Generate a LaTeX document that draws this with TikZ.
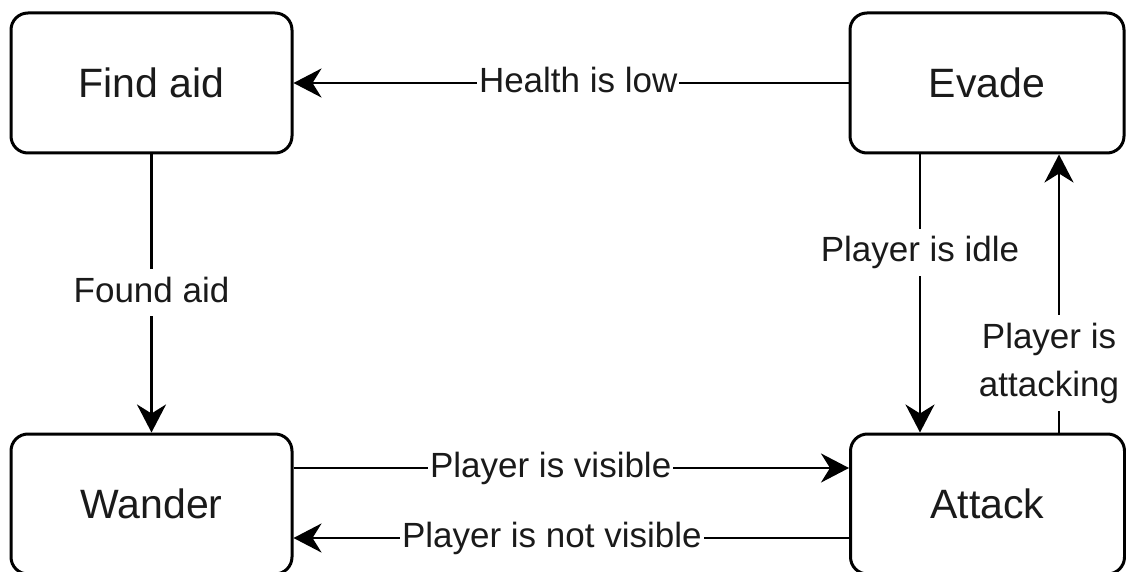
\documentclass[tikz,border=0pt]{standalone}
\usepackage{fontspec}
\setmainfont{Liberation Sans}
\usetikzlibrary{arrows.meta}
\definecolor{ink}{HTML}{1A1A1A}
\tikzset{
  state/.style={draw=black, line width=3pt, rounded corners=17pt, fill=white,
    minimum width=#1, minimum height=140pt, inner sep=0pt, text=ink,
    font=\fontsize{41}{48}\selectfont},
  state/.default=281pt,
  arr/.style={draw=black, line width=2.6pt,
    -{Stealth[length=28pt, width=29pt, inset=9pt]}},
  lab/.style={fill=white, text=ink, inner xsep=2pt, inner ysep=8pt,
    font=\fontsize{35}{48}\selectfont, text height=25pt, text depth=6pt}
}
\begin{document}
\begin{tikzpicture}[x=1pt, y=-1pt]
\useasboundingbox (0,0) rectangle (1126,572);
\clip (0,0) rectangle (1126,572);
\fill[white] (0,0) rectangle (1126,572);

\node[state] (fa) at (151.5,83) {Find aid};
\node[state=274pt] (ev) at (987,83) {Evade};
\node[state] (wa) at (151.5,504) {Wander};
\node[state=274pt] (at) at (987.5,504) {Attack};

\draw[arr] (ev.west) -- node[lab, pos=0.487] {Health is low} (fa.east);
\draw[arr] (fa.south) -- node[lab, pos=0.498] {Found aid} (wa.north);
\draw[arr] ([xshift=-67pt]ev.south) -- node[lab, pos=0.352] {Player is idle} ([xshift=-67.5pt]at.north);
\draw[arr] ([xshift=71.5pt]at.north) -- node[lab, pos=0.25, xshift=-10pt, align=center, text height=73pt, inner ysep=8.5pt] {Player is\\attacking} ([xshift=72pt]ev.south);
\draw[arr] ([yshift=36pt]wa.east) -- node[lab, pos=0.463] {Player is visible} ([yshift=36pt]at.west);
\draw[arr] ([yshift=-34pt]at.west) -- node[lab, pos=0.535] {Player is not visible} ([yshift=-34pt]wa.east);
\end{tikzpicture}
\end{document}
